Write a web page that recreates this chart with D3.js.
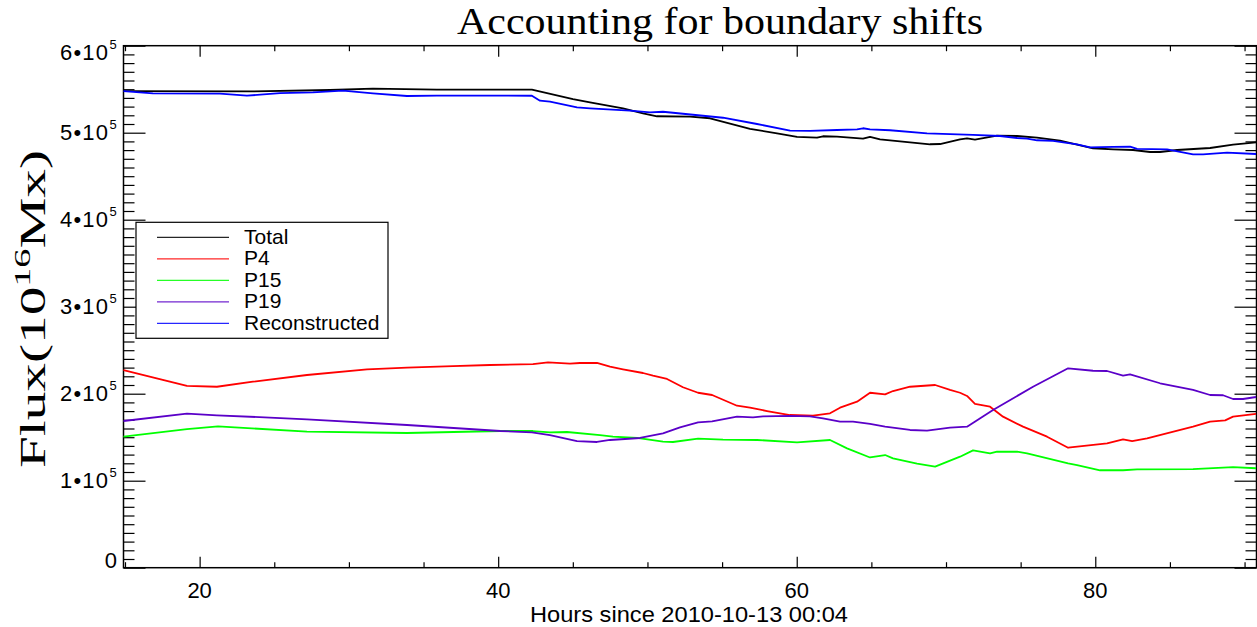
<!DOCTYPE html>
<html>
<head>
<meta charset="utf-8">
<script src="https://cdn.jsdelivr.net/npm/d3@7"></script>
<style>
  html, body { margin: 0; padding: 0; background: #fff; }
  svg { display: block; }
</style>
</head>
<body>
<svg id="chart" width="1257" height="627"></svg>
<script>
// ---------- data (hours since 2010-10-13 00:04, flux in 10^16 Mx) ----------
const totalHours = [14.9, 23.37, 28.73, 31.61, 35.90, 42.26, 45.01, 46.15, 48.36, 49.70, 50.64, 52.85, 54.19, 56.87, 58.68, 60.02, 61.36, 61.76, 62.70, 64.44, 64.91, 65.58, 66.92, 68.93, 69.60, 70.94, 71.41, 71.94, 73.42, 74.76, 76.10, 77.64, 79.85, 81.19, 82.53, 83.67, 84.34, 85.48, 87.69, 89.23, 90.77];
const totalFlux  = [547900, 547400, 549100, 550600, 549400, 549400, 538700, 534900, 528000, 522300, 518900, 518400, 516600, 504300, 499300, 495100, 494300, 495900, 495400, 493100, 495100, 492400, 490100, 486700, 487000, 492400, 493500, 492000, 496600, 496200, 494300, 490800, 482100, 480900, 480100, 477800, 477800, 480100, 482400, 486200, 489000];

const reconHours = [14.9, 16.87, 21.36, 23.17, 25.38, 27.59, 29.60, 31.61, 33.89, 35.90, 42.26, 42.80, 43.47, 45.28, 46.15, 48.83, 50.17, 51.04, 53.72, 55.06, 57.34, 59.55, 60.89, 62.70, 64.04, 64.44, 64.91, 66.25, 68.73, 71.81, 73.62, 74.76, 75.43, 76.10, 77.17, 78.78, 79.65, 81.19, 82.33, 82.80, 84.81, 86.55, 87.22, 88.83, 90.77];
const reconFlux  = [547900, 545300, 544800, 542500, 545600, 546400, 548300, 545300, 542200, 542500, 542500, 536800, 535600, 529200, 528000, 525300, 523400, 524100, 519500, 517200, 510000, 502300, 502000, 503100, 503900, 505100, 503900, 502800, 499300, 497400, 496200, 493900, 493100, 491300, 490500, 486700, 483200, 483600, 483900, 481300, 480900, 475200, 475200, 477000, 475500];

const p4Hours = [14.9, 19.15, 21.16, 23.57, 27.19, 31.21, 33.89, 36.97, 39.45, 42.33, 43.34, 44.81, 45.48, 46.62, 47.49, 48.36, 49.70, 50.37, 51.31, 52.38, 53.39, 54.33, 56.00, 56.87, 58.01, 59.55, 61.09, 62.23, 62.90, 64.04, 64.91, 65.92, 66.45, 67.59, 69.27, 70.27, 70.94, 71.41, 71.94, 72.95, 73.82, 75.16, 76.77, 78.18, 80.79, 81.86, 82.47, 83.47, 86.55, 87.69, 88.70, 89.23, 90.77];
const p4Flux  = [227200, 208900, 208000, 213800, 221500, 228000, 229900, 231800, 233000, 234100, 236100, 234500, 235300, 235300, 231000, 228000, 223800, 220700, 216900, 207400, 201100, 198500, 186200, 183900, 180100, 175500, 174700, 177500, 183900, 190800, 201100, 199300, 203100, 208000, 210000, 204300, 201100, 197400, 188200, 185100, 173600, 162100, 150600, 137900, 143000, 147600, 145600, 148700, 162100, 167800, 169400, 173600, 176700];

const p15Hours = [14.9, 19.15, 21.23, 27.19, 33.89, 40.14, 42.33, 43.47, 44.61, 46.82, 47.69, 49.30, 51.04, 51.71, 53.39, 55.06, 57.34, 60.02, 62.23, 63.37, 64.91, 65.92, 66.45, 68.06, 69.27, 70.94, 71.81, 72.95, 73.42, 74.76, 75.43, 78.18, 78.78, 80.32, 81.86, 82.80, 86.55, 89.23, 90.77];
const p15Flux  = [150600, 159400, 162500, 156300, 154800, 157100, 157100, 155600, 156000, 152500, 150600, 149100, 144800, 144500, 148300, 147100, 146800, 144100, 146800, 137200, 126700, 129500, 125700, 119500, 116100, 127600, 134900, 131500, 133300, 133300, 131500, 120000, 118000, 112000, 112000, 113100, 113400, 115700, 114300];

const p19Hours = [14.9, 19.15, 21.16, 27.19, 33.89, 40.14, 42.26, 43.47, 45.28, 46.62, 47.49, 49.50, 51.04, 52.18, 53.39, 54.33, 56.00, 57.07, 57.74, 59.55, 60.89, 61.76, 62.90, 63.77, 64.91, 65.92, 67.59, 68.73, 70.27, 71.41, 73.15, 75.83, 78.18, 79.85, 80.79, 81.86, 82.33, 84.34, 86.55, 87.69, 88.56, 89.23, 89.90, 90.77];
const p19Flux  = [168600, 177000, 175200, 170600, 164000, 157100, 155600, 152500, 145600, 144500, 146800, 149100, 154500, 161400, 167100, 168300, 173600, 172900, 174000, 174400, 174000, 171700, 167800, 167800, 165200, 162100, 158300, 157500, 160900, 162100, 181300, 208000, 229200, 226400, 226100, 220700, 222300, 212000, 204300, 198500, 198200, 193900, 193900, 196200];

const seriesNames  = ["Total", "P4", "P15", "P19", "Reconstructed"];
const seriesColors = ["#000000", "#ff0000", "#00ff00", "#5a00c8", "#0000ff"];

const xMajorTicks = [20, 40, 60, 80];
const xMinorTicks = [15, 25, 30, 35, 45, 50, 55, 65, 70, 75, 85, 90];
const yMajorTicks = [0, 100000, 200000, 300000, 400000, 500000, 600000];
const yMajorMantissa = ["0", "1", "2", "3", "4", "5", "6"];

const titleText = "Accounting for boundary shifts";
const xTitle = "Hours since 2010-10-13 00:04";

// ---------- layout ----------
const svg = d3.select("#chart");
const L = 123.5, R = 1256.5, T = 45.7, B = 567.7;
const x = d3.scaleLinear().domain([14.9, 90.8]).range([L, R]);
const y = d3.scaleLinear().domain([0, 600000]).range([B, T]);

const yMinorTicks = d3.range(0, 600001, 10000).filter(v => v % 100000 !== 0);

const sans = "'Liberation Sans', Arial, Helvetica, sans-serif";
const serif = "'Liberation Serif', 'Times New Roman', serif";

function tickGroup(axis, tx, ty) {
  const g = svg.append("g").attr("transform", `translate(${tx},${ty})`).call(axis);
  g.select(".domain").remove();
  g.selectAll(".tick line").attr("stroke", "#000").attr("stroke-width", 1.2);
  g.selectAll("text").remove();
  return g;
}
tickGroup(d3.axisRight(y).tickValues(yMajorTicks).tickSize(22).tickFormat(""), L, 0);
tickGroup(d3.axisRight(y).tickValues(yMinorTicks).tickSize(11).tickFormat(""), L, 0);
tickGroup(d3.axisLeft(y).tickValues(yMajorTicks).tickSize(22).tickFormat(""), R, 0);
tickGroup(d3.axisLeft(y).tickValues(yMinorTicks).tickSize(11).tickFormat(""), R, 0);
tickGroup(d3.axisTop(x).tickValues(xMajorTicks).tickSize(11).tickFormat(""), 0, B);
tickGroup(d3.axisTop(x).tickValues(xMinorTicks).tickSize(5.5).tickFormat(""), 0, B);
tickGroup(d3.axisBottom(x).tickValues(xMajorTicks).tickSize(11).tickFormat(""), 0, T);
tickGroup(d3.axisBottom(x).tickValues(xMinorTicks).tickSize(5.5).tickFormat(""), 0, T);

svg.append("rect").attr("x", L).attr("y", T).attr("width", R - L).attr("height", B - T)
  .attr("fill", "none").attr("stroke", "#000").attr("stroke-width", 1.5);

const line = d3.line().x(d => x(d[0])).y(d => y(d[1]));
const seriesData = [
  d3.zip(totalHours, totalFlux),
  d3.zip(p4Hours, p4Flux),
  d3.zip(p15Hours, p15Flux),
  d3.zip(p19Hours, p19Flux),
  d3.zip(reconHours, reconFlux)
];
const plot = svg.append("g");
seriesData.forEach((data, i) => {
  plot.append("path").datum(data).attr("d", line)
    .attr("fill", "none").attr("stroke", seriesColors[i]).attr("stroke-width", 1.8)
    .attr("stroke-linejoin", "round");
});

// y tick labels
const yLab = svg.append("g").attr("font-family", sans).attr("fill", "#000");
yMajorTicks.forEach((v, i) => {
  let base = y(v) + 7.3;
  if (i === 0) base = y(v) + 0.3;
  if (i === yMajorTicks.length - 1) base = y(v) + 14.3;
  if (v === 0) {
    yLab.append("text").attr("x", 117).attr("y", base).attr("text-anchor", "end")
      .attr("font-size", 22).text(yMajorMantissa[i]);
  } else {
    yLab.append("text").attr("x", 60).attr("y", base).attr("font-size", 22)
      .attr("textLength", 48).attr("lengthAdjust", "spacing")
      .text(yMajorMantissa[i] + "\u202210");
    yLab.append("text").attr("x", 109.5).attr("y", base - 11).attr("font-size", 13).text("5");
  }
});

// x tick labels
svg.append("g").selectAll("text").data(xMajorTicks).join("text")
  .attr("x", d => x(d)).attr("y", 598).attr("text-anchor", "middle")
  .attr("font-family", sans).attr("font-size", 22).text(d => d);

// x title
svg.append("text").attr("x", 689).attr("y", 621.5).attr("text-anchor", "middle")
  .attr("font-family", sans).attr("font-size", 22)
  .attr("textLength", 318).attr("lengthAdjust", "spacingAndGlyphs").text(xTitle);

// main title
svg.append("text").attr("x", 720).attr("y", 34).attr("text-anchor", "middle")
  .attr("font-family", serif).attr("font-size", 38)
  .attr("textLength", 526).attr("lengthAdjust", "spacingAndGlyphs").text(titleText);

// y title
const yt = svg.append("text").attr("transform", "translate(45,309) rotate(-90)")
  .attr("text-anchor", "middle").attr("font-family", serif).attr("font-size", 36)
  .attr("textLength", 318).attr("lengthAdjust", "spacingAndGlyphs");
yt.append("tspan").text("Flux(10");
yt.append("tspan").attr("font-size", 24).attr("dy", -15).text("16");
yt.append("tspan").attr("dy", 15).text("Mx)");

// legend
const lg = svg.append("g");
lg.append("rect").attr("x", 136).attr("y", 222.3).attr("width", 252).attr("height", 116)
  .attr("fill", "#fff").attr("stroke", "#000").attr("stroke-width", 1.2);
seriesNames.forEach((name, i) => {
  const ly = 237.3 + i * 21.5;
  lg.append("line").attr("x1", 157).attr("x2", 229).attr("y1", ly).attr("y2", ly)
    .attr("stroke", seriesColors[i]).attr("stroke-width", 1.2).attr("stroke-opacity", 0.85);
  lg.append("text").attr("x", 244).attr("y", ly + 6.5)
    .attr("font-family", sans).attr("font-size", 21).text(name);
});
</script>
</body>
</html>
